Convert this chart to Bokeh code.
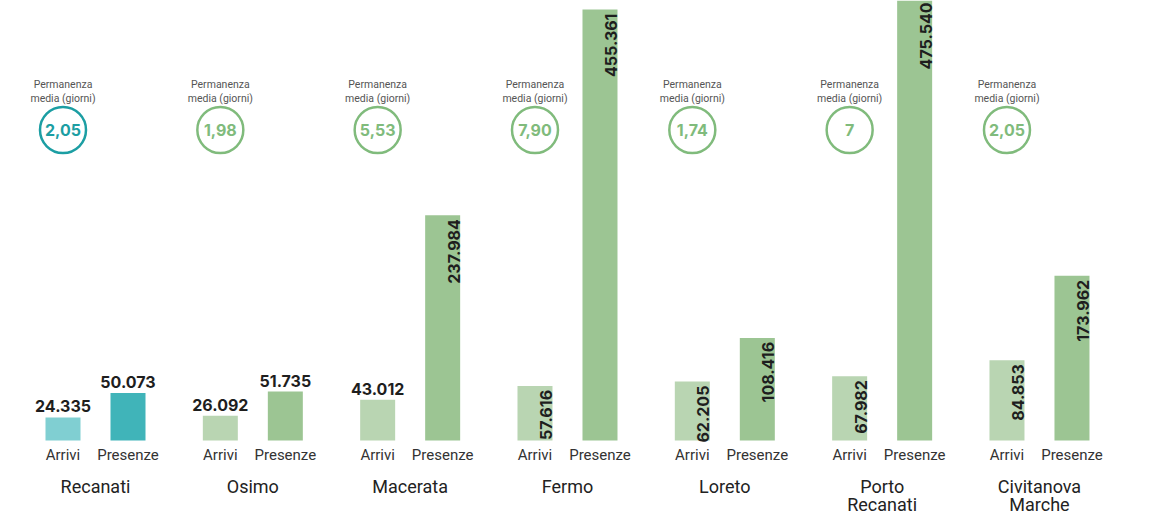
import math
from bokeh.plotting import figure
from bokeh.models import Range1d
from bokeh.core.properties import value
from bokeh.embed import file_html
from bokeh.resources import INLINE

# ---------------- data ----------------
cities = ["Recanati", "Osimo", "Macerata", "Fermo", "Loreto", "Porto Recanati", "Civitanova Marche"]
arrivi = [24335, 26092, 43012, 57616, 62205, 67982, 84853]
presenze = [50073, 51735, 237984, 455361, 108416, 475540, 173962]
permanenza = ["2,05", "1,98", "5,53", "7,90", "1,74", "7", "2,05"]
series_labels = ["Arrivi", "Presenze"]
perm_title = ["Permanenza", "media (giorni)"]
highlight = "Recanati"

# ---------------- layout / style ----------------
W, H = 1136, 515
BASE_PX = 440            # baseline, px from top
K = 0.0009465            # px per unit
G0_PX = 95               # first group centre, px
STEP_PX = 157.33         # px between group centres
BAR_OFF_PX = 32.5
BAR_W_PX = 35
CIRCLE_Y = 129.5
TITLE_Y = [84, 97.5]
SERIES_Y = 454
CITY_Y = [486, 504]
ROTATE_MIN_PX = 52
TOP_PAD_PX = 2

TEAL_A, TEAL_P, TEAL_C = "#80cfd2", "#40b4b9", "#1c9ea3"
GREEN_A, GREEN_P, GREEN_C = "#b9d5b2", "#9cc593", "#80bb7c"
LABEL_C = "#1e1e1e"

p = figure(width=W, height=H, output_backend="svg", toolbar_location=None,
           x_range=Range1d(-G0_PX / STEP_PX, (W - G0_PX) / STEP_PX),
           y_range=Range1d(-(H - BASE_PX) / K, BASE_PX / K),
           min_border=0)
p.extra_y_ranges = {"px": Range1d(H, 0)}
p.axis.visible = False
p.grid.visible = False
p.outline_line_color = None
p.background_fill_color = "white"
p.border_fill_color = "white"

off = BAR_OFF_PX / STEP_PX
bw = BAR_W_PX / STEP_PX

xa = [i - off for i in range(len(cities))]
xp = [i + off for i in range(len(cities))]
ca = [TEAL_A if c == highlight else GREEN_A for c in cities]
cp = [TEAL_P if c == highlight else GREEN_P for c in cities]
cc = [TEAL_C if c == highlight else GREEN_C for c in cities]

p.vbar(x=xa, top=arrivi, bottom=0, width=bw, fill_color=ca, line_color=None)
p.vbar(x=xp, top=presenze, bottom=0, width=bw, fill_color=cp, line_color=None)

def fmt(v):
    return f"{v:,}".replace(",", ".")

hx, hy, ht = [], [], []
rx, ry, rt = [], [], []
y_cap = (BASE_PX - TOP_PAD_PX) / K
for xs, vals in ((xa, arrivi), (xp, presenze)):
    for x, v in zip(xs, vals):
        if v * K > ROTATE_MIN_PX:
            rx.append(x + (BAR_W_PX / 2 - 6.5) / STEP_PX)
            ry.append(min(v - 4 / K, y_cap))
            rt.append(fmt(v))
        else:
            hx.append(x)
            hy.append(v + 11 / K)
            ht.append(fmt(v))

p.text(x=hx, y=hy, text=ht, text_align="center", text_baseline="middle",
       text_font=value("Inter"), text_font_style="bold", text_font_size="16px",
       text_color=LABEL_C)
p.text(x=rx, y=ry, text=rt, angle=math.pi / 2, text_align="right",
       text_baseline="middle",
       text_font=value("Inter"), text_font_style="bold", text_font_size="16px",
       text_color=LABEL_C)

# series labels under bars
for xs, lab in ((xa, series_labels[0]), (xp, series_labels[1])):
    p.text(x=xs, y=[SERIES_Y] * len(xs), text=[lab] * len(xs), y_range_name="px",
           text_align="center", text_baseline="middle",
           text_font=value("Roboto"), text_font_size="15px", text_color="#333333")

# city names
for li in range(2):
    xs, ts = [], []
    for i, c in enumerate(cities):
        parts = c.split(" ")
        if li < len(parts):
            xs.append(i)
            ts.append(parts[li])
    p.text(x=xs, y=[CITY_Y[li]] * len(xs), text=ts, y_range_name="px",
           text_align="center", text_baseline="middle",
           text_font=value("Roboto"), text_font_size="18px", text_color="#222222")

# permanenza title + circles
for li, t in enumerate(perm_title):
    p.text(x=xa, y=[TITLE_Y[li]] * len(xa), text=[t] * len(xa), y_range_name="px",
           text_align="center", text_baseline="middle",
           text_font=value("Roboto"), text_font_size="10.5px", text_color="#555555")

p.scatter(x=xa, y=[CIRCLE_Y] * len(xa), y_range_name="px", marker="circle", size=46,
          fill_color="white", line_color=cc, line_width=2.5)
p.text(x=xa, y=[CIRCLE_Y] * len(xa), text=permanenza, y_range_name="px",
       text_align="center", text_baseline="middle",
       text_font=value("Inter"), text_font_style="bold", text_font_size="16px",
       text_color=cc)

open("out.html", "w").write(file_html(p, INLINE))
